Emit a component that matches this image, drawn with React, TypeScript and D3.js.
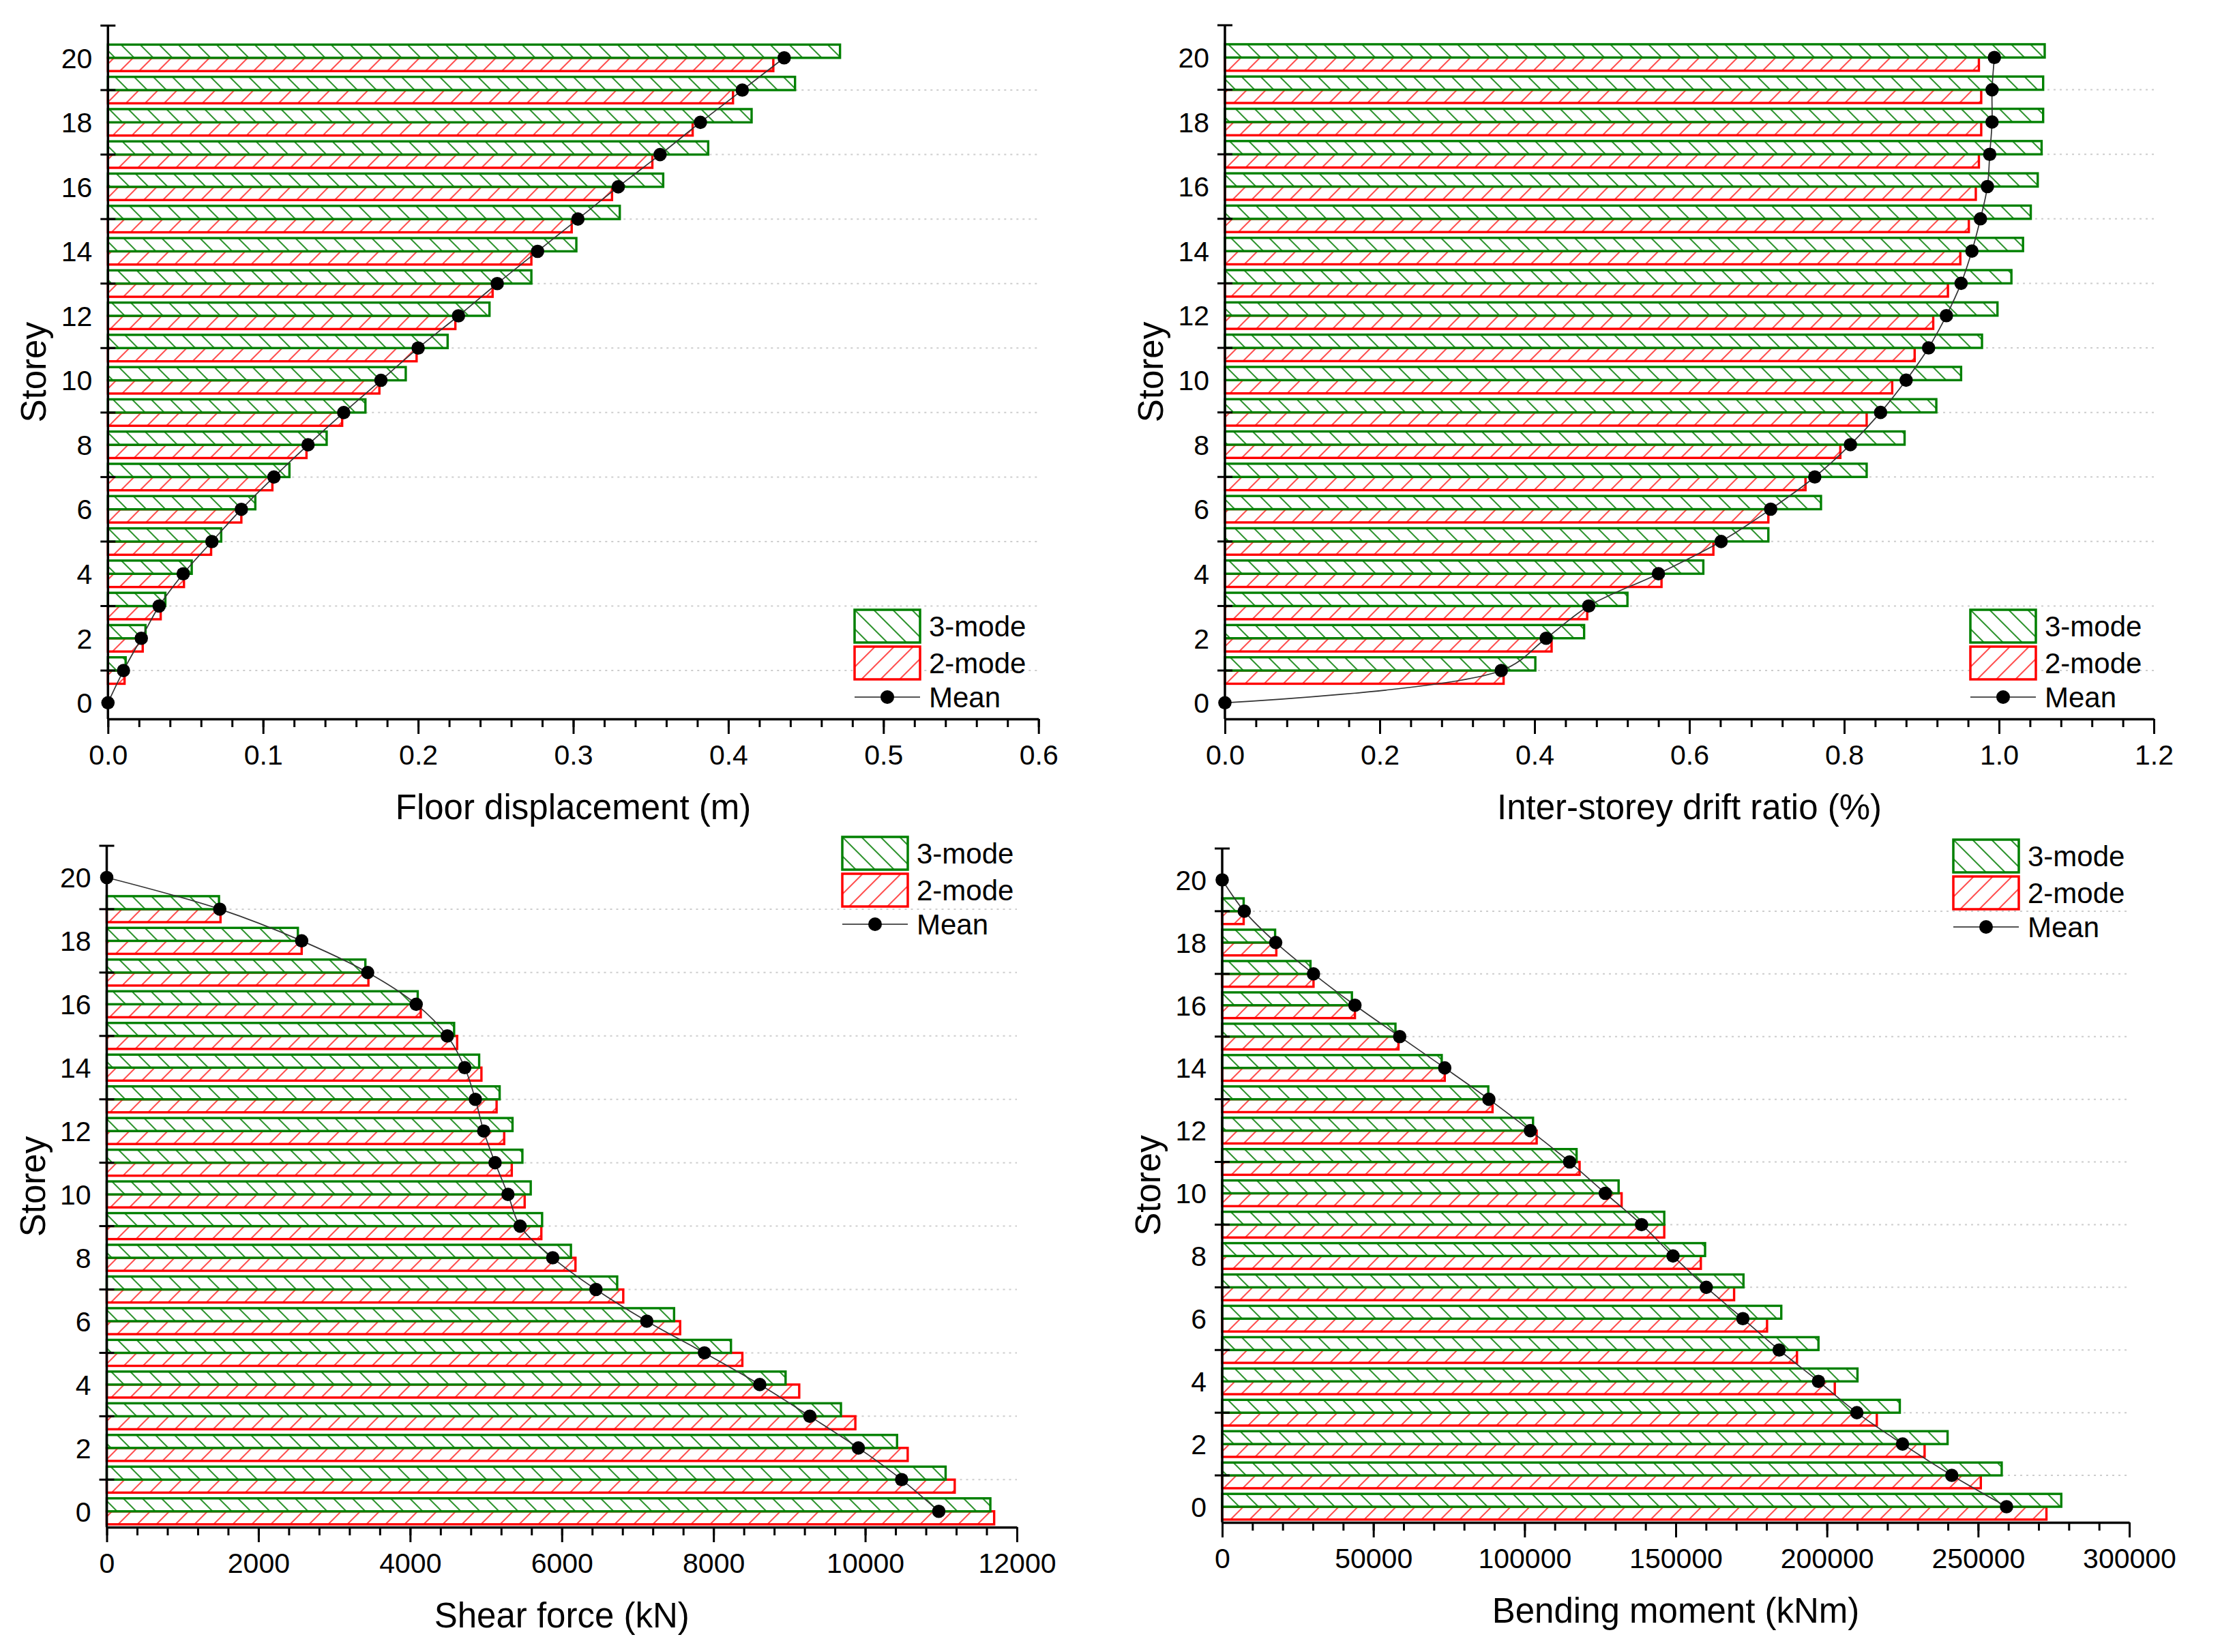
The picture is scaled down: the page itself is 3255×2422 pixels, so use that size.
import { useEffect, useRef } from 'react';
import * as d3 from 'd3';

// storey numbers, bottom to top
const storeys = [0, 1, 2, 3, 4, 5, 6, 7, 8, 9, 10, 11, 12, 13, 14, 15, 16, 17, 18, 19, 20];
const storeyLabels = [0, 2, 4, 6, 8, 10, 12, 14, 16, 18, 20];
const storeyTicks = [1, 3, 5, 7, 9, 11, 13, 15, 17, 19, 21];

const dispThreeMode = [0, 0.0114, 0.0242, 0.037, 0.054, 0.073, 0.095, 0.117, 0.141, 0.166, 0.192, 0.219, 0.246, 0.273, 0.302, 0.33, 0.358, 0.387, 0.415, 0.443, 0.472];
const dispTwoMode = [0, 0.0107, 0.0224, 0.034, 0.049, 0.0665, 0.086, 0.106, 0.128, 0.151, 0.175, 0.199, 0.224, 0.248, 0.273, 0.299, 0.325, 0.351, 0.377, 0.403, 0.429];
const dispMean = [0, 0.01, 0.0215, 0.033, 0.0485, 0.067, 0.086, 0.107, 0.129, 0.152, 0.176, 0.2, 0.226, 0.251, 0.277, 0.303, 0.329, 0.356, 0.382, 0.409, 0.436];

const driftThreeMode = [0, 0.401, 0.464, 0.52, 0.618, 0.702, 0.77, 0.829, 0.878, 0.919, 0.951, 0.978, 0.998, 1.016, 1.031, 1.041, 1.05, 1.055, 1.057, 1.057, 1.059];
const driftTwoMode = [0, 0.36, 0.422, 0.468, 0.564, 0.631, 0.702, 0.75, 0.795, 0.829, 0.862, 0.891, 0.915, 0.934, 0.95, 0.961, 0.97, 0.974, 0.977, 0.977, 0.974];
const driftMean = [0, 0.357, 0.415, 0.47, 0.56, 0.641, 0.705, 0.762, 0.808, 0.847, 0.88, 0.909, 0.932, 0.951, 0.965, 0.976, 0.985, 0.988, 0.991, 0.991, 0.994];

const shearThreeMode = [11650, 11060, 10420, 9680, 8950, 8230, 7480, 6730, 6120, 5740, 5590, 5480, 5350, 5180, 4910, 4580, 4100, 3410, 2520, 1480, 0];
const shearTwoMode = [11700, 11180, 10560, 9870, 9130, 8380, 7560, 6810, 6180, 5730, 5510, 5340, 5240, 5140, 4940, 4620, 4140, 3450, 2570, 1500, 0];
const shearMean = [10970, 10480, 9910, 9270, 8610, 7880, 7120, 6450, 5880, 5450, 5290, 5120, 4970, 4860, 4720, 4490, 4080, 3440, 2570, 1490, 0];

const momentThreeMode = [277500, 257800, 239900, 224100, 210100, 197200, 184900, 172400, 159700, 146200, 131100, 117200, 102800, 88000, 72600, 57300, 42900, 29200, 17500, 7100, 0];
const momentTwoMode = [272600, 250900, 232300, 216500, 202600, 190100, 180200, 169300, 158300, 146200, 132100, 118200, 104000, 89400, 73600, 58300, 43900, 30200, 17900, 7100, 0];
const momentMean = [259400, 241300, 225000, 209900, 197200, 184200, 172200, 160100, 149100, 138700, 126700, 114900, 101900, 88200, 73600, 58700, 43900, 30200, 17700, 7300, 0];

const dispTicks = [0, 0.1, 0.2, 0.3, 0.4, 0.5, 0.6];
const driftTicks = [0, 0.2, 0.4, 0.6, 0.8, 1.0, 1.2];
const shearTicks = [0, 2000, 4000, 6000, 8000, 10000, 12000];
const momentTicks = [0, 50000, 100000, 150000, 200000, 250000, 300000];

const legendLabels = ['3-mode', '2-mode', 'Mean'];

const FONT = 'Arial, "Liberation Sans", sans-serif';
const GREEN = '#008000';
const RED = '#ff0000';

interface Box {
    left: number;
    right: number;
    top: number;
    bottom: number;
}

interface PanelProps {
    title: string;
    three: number[];
    two: number[];
    mean: number[];
    ticks: number[];
    minorStep: number;
    format: (v: number) => string;
    box: Box;
    legend: { x: number; y: number };
}

interface Row {
    s: number;
    three: number;
    two: number;
    mean: number;
}

const BAR = 0.41; // half of a storey group, in storey units

const StoreyPanel = ({ title, three, two, mean, ticks, minorStep, format, box, legend }: PanelProps) => {
    const gRef = useRef<SVGGElement>(null);

    useEffect(() => {
        const g = d3.select(gRef.current);
        g.selectAll('*').remove();

        const xMax = ticks[ticks.length - 1];
        const x = d3.scaleLinear().domain([0, xMax]).range([box.left, box.right]);
        const y = d3.scaleLinear().domain([-0.5, 21]).range([box.bottom, box.top]);
        const rows: Row[] = storeys.map((s, i) => ({ s, three: three[i], two: two[i], mean: mean[i] }));

        // dotted grid at odd storeys
        g.append('g')
            .selectAll('line')
            .data(storeyTicks.filter(t => t < 21))
            .join('line')
            .attr('x1', box.left)
            .attr('x2', box.right)
            .attr('y1', d => y(d))
            .attr('y2', d => y(d))
            .attr('stroke', '#cdcdcd')
            .attr('stroke-width', 2)
            .attr('stroke-dasharray', '3 6');

        const barH = y(0) - y(BAR);

        // 2-mode bars (below storey line)
        g.append('g')
            .selectAll('rect')
            .data(rows.filter(d => d.two > 0))
            .join('rect')
            .attr('x', x(0))
            .attr('y', d => y(d.s))
            .attr('width', d => x(d.two) - x(0))
            .attr('height', barH)
            .attr('fill', 'url(#hatch-red)')
            .attr('stroke', RED)
            .attr('stroke-width', 3.4);

        // 3-mode bars (above storey line)
        g.append('g')
            .selectAll('rect')
            .data(rows.filter(d => d.three > 0))
            .join('rect')
            .attr('x', x(0))
            .attr('y', d => y(d.s + BAR))
            .attr('width', d => x(d.three) - x(0))
            .attr('height', barH)
            .attr('fill', 'url(#hatch-green)')
            .attr('stroke', GREEN)
            .attr('stroke-width', 3.4);

        // mean line + dots
        const line = d3
            .line<Row>()
            .x(d => x(d.mean))
            .y(d => y(d.s))
            .curve(d3.curveCatmullRom.alpha(0.5));
        g.append('path')
            .datum(rows)
            .attr('d', line)
            .attr('fill', 'none')
            .attr('stroke', '#333')
            .attr('stroke-width', 1.7);
        g.append('g')
            .selectAll('circle')
            .data(rows)
            .join('circle')
            .attr('cx', d => x(d.mean))
            .attr('cy', d => y(d.s))
            .attr('r', 9.8)
            .attr('fill', '#000');

        // x axis
        const minors = d3.range(0, xMax + minorStep / 2, minorStep);
        const xMinor = g
            .append('g')
            .attr('transform', `translate(0,${box.bottom})`)
            .call(d3.axisBottom(x).tickValues(minors).tickSize(12).tickSizeOuter(0).tickFormat(() => ''));
        xMinor.select('.domain').remove();
        xMinor.selectAll('line').attr('stroke', '#000').attr('stroke-width', 3);

        const xAxis = g
            .append('g')
            .attr('transform', `translate(0,${box.bottom})`)
            .call(
                d3
                    .axisBottom(x)
                    .tickValues(ticks)
                    .tickSize(22)
                    .tickSizeOuter(0)
                    .tickPadding(16)
                    .tickFormat(d => format(d as number))
            );
        xAxis.select('.domain').attr('stroke', '#000').attr('stroke-width', 3.5);
        xAxis.selectAll('line').attr('stroke', '#000').attr('stroke-width', 3);
        xAxis.selectAll('text').attr('font-family', FONT).attr('font-size', 41).attr('fill', '#000');

        // y axis
        const yAxis = g.append('g');
        yAxis
            .append('line')
            .attr('x1', box.left)
            .attr('x2', box.left)
            .attr('y1', y(21))
            .attr('y2', y(-0.5))
            .attr('stroke', '#000')
            .attr('stroke-width', 3.5);
        yAxis
            .selectAll('line.tick')
            .data(storeyTicks)
            .join('line')
            .attr('class', 'tick')
            .attr('x1', box.left - 11)
            .attr('x2', box.left + 11)
            .attr('y1', d => y(d))
            .attr('y2', d => y(d))
            .attr('stroke', '#000')
            .attr('stroke-width', 3);
        yAxis
            .selectAll('text')
            .data(storeyLabels)
            .join('text')
            .attr('x', box.left - 23)
            .attr('y', d => y(d))
            .attr('dy', '0.36em')
            .attr('text-anchor', 'end')
            .attr('font-family', FONT)
            .attr('font-size', 41)
            .text(d => d);

        // axis titles
        g.append('text')
            .attr('x', (box.left + box.right) / 2)
            .attr('y', box.bottom + 147)
            .attr('text-anchor', 'middle')
            .attr('font-family', FONT)
            .attr('font-size', 51)
            .text(title);
        g.append('text')
            .attr('transform', `translate(${box.left - 91},${(box.top + box.bottom) / 2}) rotate(-90)`)
            .attr('text-anchor', 'middle')
            .attr('font-family', FONT)
            .attr('font-size', 51)
            .text('Storey');

        // legend
        const lg = g.append('g').attr('transform', `translate(${legend.x},${legend.y})`);
        const lw = 96;
        const lh = 48;
        lg.append('rect').attr('width', lw).attr('height', lh).attr('fill', 'url(#hatch-green)').attr('stroke', GREEN).attr('stroke-width', 3.5);
        lg.append('rect').attr('y', lh + 6).attr('width', lw).attr('height', lh).attr('fill', 'url(#hatch-red)').attr('stroke', RED).attr('stroke-width', 3.5);
        const my = 128;
        lg.append('line').attr('x1', 0).attr('x2', lw).attr('y1', my).attr('y2', my).attr('stroke', '#555').attr('stroke-width', 2);
        lg.append('circle').attr('cx', lw / 2).attr('cy', my).attr('r', 10).attr('fill', '#000');
        lg.selectAll('text.lbl')
            .data(legendLabels)
            .join('text')
            .attr('class', 'lbl')
            .attr('x', lw + 13)
            .attr('y', (_, i) => [lh / 2, lh + 6 + lh / 2, my][i])
            .attr('dy', '0.36em')
            .attr('font-family', FONT)
            .attr('font-size', 42)
            .text(d => d);
    }, [title, three, two, mean, ticks, minorStep, format, box, legend]);

    return <g ref={gRef}></g>;
};

const fmt1 = d3.format('.1f');
const fmt0 = d3.format('d');

const App = () => {
    return (
        <svg
            width={3255}
            height={2422}
            style={{ position: 'absolute', left: 0, top: 0, background: '#fff', display: 'block' }}
        >
            <defs>
                <pattern id="hatch-green" patternUnits="userSpaceOnUse" width={28} height={28}>
                    <rect width={28} height={28} fill="#fff" />
                    <path d="M-2,-2L30,30M-2,26L2,30M26,-2L30,2" stroke="#2f942f" strokeWidth={2} />
                </pattern>
                <pattern id="hatch-red" patternUnits="userSpaceOnUse" width={28} height={28}>
                    <rect width={28} height={28} fill="#fff" />
                    <path d="M-2,30L30,-2M-2,2L2,-2M26,30L30,26" stroke="#ff5050" strokeWidth={2} />
                </pattern>
            </defs>
            <rect width={3255} height={2422} fill="#fff" />
            <StoreyPanel
                title="Floor displacement (m)"
                three={dispThreeMode}
                two={dispTwoMode}
                mean={dispMean}
                ticks={dispTicks}
                minorStep={0.02}
                format={fmt1}
                box={{ left: 158.3, right: 1522.7, top: 37.5, bottom: 1054 }}
                legend={{ x: 1253, y: 894 }}
            />
            <StoreyPanel
                title="Inter-storey drift ratio (%)"
                three={driftThreeMode}
                two={driftTwoMode}
                mean={driftMean}
                ticks={driftTicks}
                minorStep={0.04}
                format={fmt1}
                box={{ left: 1796, right: 3158, top: 37, bottom: 1054 }}
                legend={{ x: 2889, y: 894 }}
            />
            <StoreyPanel
                title="Shear force (kN)"
                three={shearThreeMode}
                two={shearTwoMode}
                mean={shearMean}
                ticks={shearTicks}
                minorStep={400}
                format={fmt0}
                box={{ left: 156.5, right: 1491, top: 1240, bottom: 2239 }}
                legend={{ x: 1235, y: 1227 }}
            />
            <StoreyPanel
                title="Bending moment (kNm)"
                three={momentThreeMode}
                two={momentTwoMode}
                mean={momentMean}
                ticks={momentTicks}
                minorStep={10000}
                format={fmt0}
                box={{ left: 1792, right: 3122, top: 1244, bottom: 2232 }}
                legend={{ x: 2864, y: 1231 }}
            />
        </svg>
    );
};

export default App;
